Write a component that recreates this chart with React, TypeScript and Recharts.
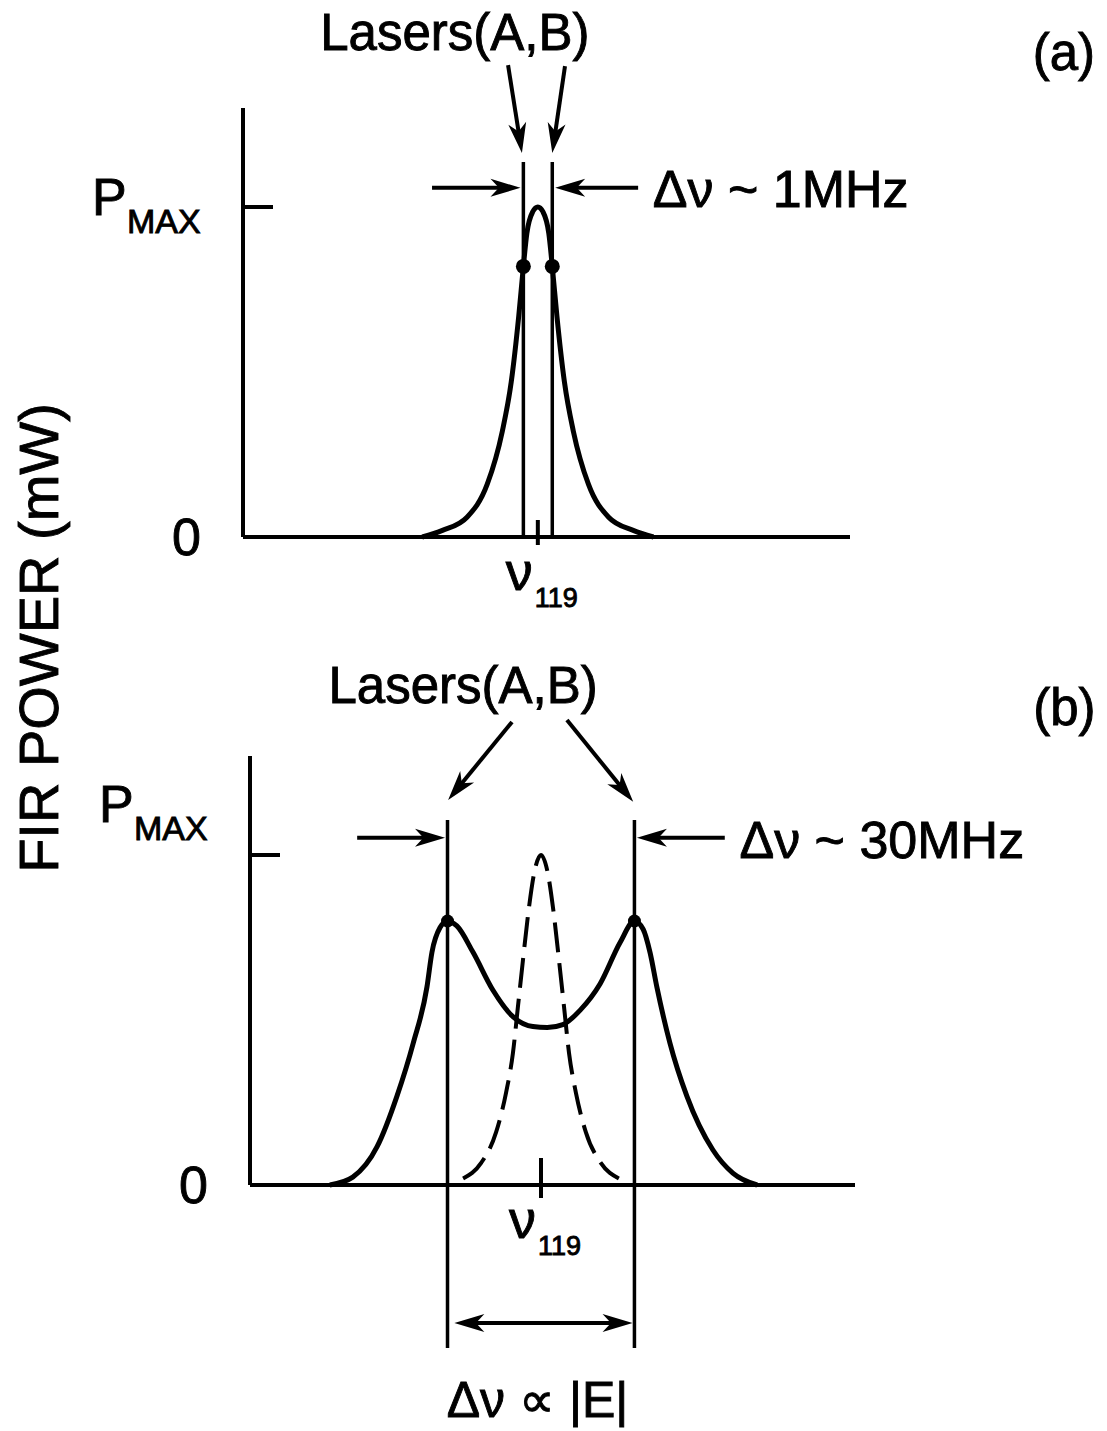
import React from 'react';
import {
  ComposedChart,
  Line,
  Scatter,
  XAxis,
  YAxis,
  ReferenceLine,
  ReferenceDot,
} from 'recharts';

const FONT = '"Liberation Sans", Arial, Helvetica, sans-serif';
const INK = '#000';
// the scanned lettering is heavier than a regular face
const TEXT_STROKE = 0.9;

// (a) lasers 1 MHz apart, both sitting inside the nu_119 gain line
// detuning from nu_119 in MHz, power in units of P_MAX
const freqA = [-4.0, -3.3, -2.45, -1.75, -1.23, -0.92, -0.66, -0.5, -0.38, -0.18, 0, 0.18, 0.38, 0.5, 0.66, 0.92, 1.23, 1.75, 2.45, 3.3, 4.0];
const powerA = [0, 0.02, 0.06, 0.16, 0.32, 0.47, 0.67, 0.82, 0.92, 0.985, 1.0, 0.985, 0.92, 0.82, 0.67, 0.47, 0.32, 0.16, 0.06, 0.02, 0];
const laserFreqA = [-0.5, 0.5];
const laserPowerA = [0.82, 0.82];

// (b) lasers 30 MHz apart: solid = Stark split line, dashed = unsplit line
const freqB = [-33.9, -30.2, -26.3, -23.1, -20.5, -18.3, -17.5, -16.2, -15, -13.5, -10.9, -7.7, -4.5, -1.3, 1.0, 3.5, 6.3, 9.5, 12.7, 15, 16.4, 17.5, 18.6, 20.7, 23.4, 27.6, 30.8, 34.7];
const powerB = [0, 0.024, 0.116, 0.27, 0.43, 0.6, 0.705, 0.78, 0.8, 0.785, 0.705, 0.59, 0.51, 0.48, 0.477, 0.486, 0.53, 0.61, 0.735, 0.8, 0.775, 0.705, 0.6, 0.43, 0.27, 0.106, 0.036, 0];
const freqUnsplit = [-12.5, -9.6, -7.2, -5.6, -4.5, -3.7, -2.9, -2.0, -1.04, 0, 1.04, 2.0, 2.9, 3.7, 4.5, 5.6, 7.2, 9.6, 12.5];
const powerUnsplit = [0.02, 0.067, 0.16, 0.28, 0.4, 0.54, 0.68, 0.83, 0.95, 1.0, 0.95, 0.83, 0.68, 0.54, 0.4, 0.28, 0.16, 0.067, 0.02];
const laserFreqB = [-15, 15];
const laserPowerB = [0.8, 0.8];

const powerTicks = [0, 1];
const freqTicks = [0];

const zip = (fs: number[], ps: number[]) => fs.map((f, i) => ({ f, p: ps[i] }));

const textStyle = {
  fontFamily: FONT,
  fill: INK,
  stroke: INK,
  strokeWidth: TEXT_STROKE,
};

// arrowhead with a notched back, tip at (tx,ty), coming from (fx,fy)
function headPoints(tx: number, ty: number, fx: number, fy: number) {
  const a = Math.atan2(ty - fy, tx - fx);
  const ux = Math.cos(a);
  const uy = Math.sin(a);
  const L = 30;
  const W = 9;
  const bx = tx - L * ux;
  const by = ty - L * uy;
  const nx = tx - 0.72 * L * ux;
  const ny = ty - 0.72 * L * uy;
  return `${tx},${ty} ${bx - W * uy},${by + W * ux} ${nx},${ny} ${bx + W * uy},${by - W * ux}`;
}

const arrowShape = (both: boolean) => (props: any) => {
  const { x1, y1, x2, y2 } = props;
  const a = Math.atan2(y2 - y1, x2 - x1);
  const cut = 20;
  const ex = x2 - cut * Math.cos(a);
  const ey = y2 - cut * Math.sin(a);
  const sx = both ? x1 + cut * Math.cos(a) : x1;
  const sy = both ? y1 + cut * Math.sin(a) : y1;
  return (
    <g>
      <line x1={sx} y1={sy} x2={ex} y2={ey} stroke={INK} strokeWidth={4} />
      <polygon points={headPoints(x2, y2, x1, y1)} fill={INK} />
      {both && <polygon points={headPoints(x1, y1, x2, y2)} fill={INK} />}
    </g>
  );
};

const noteShape = (text: string, size: number) => (props: any) => (
  <text x={props.cx} y={props.cy} textAnchor="middle" fontSize={size} {...textStyle}>
    {text}
  </text>
);

const dotShape = (r: number) => (props: any) => <circle cx={props.cx} cy={props.cy} r={r} fill={INK} />;

function PowerTick({ x, y, payload, pDy, maxDy }: any) {
  if (payload.value === 0) {
    return (
      <text x={x - 42} y={y + 18} textAnchor="end" fontSize={52} {...textStyle}>
        0
      </text>
    );
  }
  return (
    <g>
      <line x1={x} y1={y} x2={x + 30} y2={y} stroke={INK} strokeWidth={4} />
      <text x={x - 151} y={y + pDy} fontSize={52} {...textStyle}>P</text>
      <text x={x - 116} y={y + maxDy} fontSize={34} {...textStyle}>MAX</text>
    </g>
  );
}

function NuTick({ x, y, up, down }: any) {
  return (
    <g>
      <line x1={x} y1={y - up} x2={x} y2={y + down} stroke={INK} strokeWidth={4} />
      <text x={x - 32} y={y + 53} fontSize={54} {...textStyle}>ν</text>
      <text x={x - 3} y={y + 70} fontSize={27} {...textStyle}>119</text>
    </g>
  );
}

type Seg = { from: [number, number]; to: [number, number]; both?: boolean };
type Note = { text: string; f: number; p: number; size: number };

interface PanelProps {
  height: number;
  margin: { top: number; right: number; bottom: number; left: number };
  domain: [number, number];
  solid: { f: number; p: number }[];
  dashed?: { f: number; p: number }[];
  lasers: number[];
  laserPower: number[];
  laserSpan: [number, number];
  dotR: number;
  arrows: Seg[];
  notes: Note[];
  pDy: number;
  maxDy: number;
  tickUp: number;
  tickDown: number;
}

function Panel(cfg: PanelProps) {
  const dots = zip(cfg.lasers, cfg.laserPower);
  return (
    <ComposedChart width={1107} height={cfg.height} margin={cfg.margin}>
      <XAxis
        type="number"
        dataKey="f"
        domain={cfg.domain}
        ticks={freqTicks}
        interval={0}
        height={60}
        axisLine={{ stroke: INK, strokeWidth: 4 }}
        tickLine={false}
        tickSize={0}
        tickMargin={0}
        tick={(p: any) => <NuTick x={p.x} y={p.y} up={cfg.tickUp} down={cfg.tickDown} />}
      />
      <YAxis
        type="number"
        dataKey="p"
        domain={[0, 1.3]}
        ticks={powerTicks}
        interval={0}
        width={80}
        axisLine={{ stroke: INK, strokeWidth: 4 }}
        tickLine={false}
        tickSize={0}
        tickMargin={0}
        tick={(p: any) => <PowerTick x={p.x} y={p.y} payload={p.payload} pDy={cfg.pDy} maxDy={cfg.maxDy} />}
      />
      {cfg.lasers.map((f) => (
        <ReferenceLine
          key={`laser${f}`}
          segment={[{ x: f, y: cfg.laserSpan[0] }, { x: f, y: cfg.laserSpan[1] }]}
          stroke={INK}
          strokeWidth={3.5}
          ifOverflow="visible"
        />
      ))}
      {cfg.dashed && (
        <Line
          data={cfg.dashed}
          dataKey="p"
          type="monotone"
          stroke={INK}
          strokeWidth={4}
          strokeDasharray="30 11"
          dot={false}
          activeDot={false}
          isAnimationActive={false}
        />
      )}
      <Line
        data={cfg.solid}
        dataKey="p"
        type="monotone"
        stroke={INK}
        strokeWidth={5}
        dot={false}
        activeDot={false}
        isAnimationActive={false}
      />
      <Scatter data={dots} shape={dotShape(cfg.dotR)} isAnimationActive={false} />
      {cfg.arrows.map((a, i) => (
        <ReferenceLine
          key={`arrow${i}`}
          segment={[{ x: a.from[0], y: a.from[1] }, { x: a.to[0], y: a.to[1] }]}
          ifOverflow="visible"
          shape={arrowShape(!!a.both)}
        />
      ))}
      {cfg.notes.map((n) => (
        <ReferenceDot
          key={n.text}
          x={n.f}
          y={n.p}
          r={1}
          ifOverflow="visible"
          shape={noteShape(n.text, n.size)}
        />
      ))}
    </ComposedChart>
  );
}

const arrowsA: Seg[] = [
  { from: [-1.03, 1.43], to: [-0.55, 1.164] },
  { from: [0.94, 1.427], to: [0.5, 1.164] },
  { from: [-3.66, 1.058], to: [-0.6, 1.058] },
  { from: [3.47, 1.058], to: [0.6, 1.058] },
];

const notesA: Note[] = [
  { text: 'Lasers(A,B)', f: -2.87, p: 1.476, size: 51 },
  { text: '(a)', f: 18.2, p: 1.415, size: 51 },
  { text: 'Δν ~ 1MHz', f: 8.4, p: 1.0, size: 52 },
];

const arrowsB: Seg[] = [
  { from: [-4.65, 1.403], to: [-14.9, 1.167] },
  { from: [4.17, 1.409], to: [14.8, 1.161] },
  { from: [-29.5, 1.052], to: [-15.4, 1.052] },
  { from: [29.5, 1.052], to: [15.4, 1.052] },
  { from: [-13.9, -0.418], to: [14.7, -0.418], both: true },
];

const notesB: Note[] = [
  { text: 'Lasers(A,B)', f: -12.5, p: 1.461, size: 51 },
  { text: '(b)', f: 84.0, p: 1.394, size: 51 },
  { text: 'Δν ~ 30MHz', f: 54.7, p: 0.991, size: 52 },
  { text: 'Δν ∝  |E|', f: -0.56, p: -0.703, size: 50 },
];

export default function App() {
  return (
    <div style={{ position: 'absolute', left: 0, top: 0, width: 1107, height: 1431, background: '#fff' }}>
      <div style={{ position: 'absolute', left: 0, top: 0 }}>
        <Panel
          height={620}
          margin={{ top: 108, right: 257, bottom: 23, left: 163 }}
          domain={[-10.2, 10.8]}
          solid={zip(freqA, powerA)}
          lasers={laserFreqA}
          laserPower={laserPowerA}
          laserSpan={[0, 1.136]}
          dotR={7.5}
          arrows={arrowsA}
          notes={notesA}
          pDy={8}
          maxDy={26}
          tickUp={17}
          tickDown={8}
        />
      </div>
      <div style={{ position: 'absolute', left: 0, top: 640 }}>
        <Panel
          height={791}
          margin={{ top: 116, right: 252, bottom: 186, left: 170 }}
          domain={[-46.7, 50.4]}
          solid={zip(freqB, powerB)}
          dashed={zip(freqUnsplit, powerUnsplit)}
          lasers={laserFreqB}
          laserPower={laserPowerB}
          laserSpan={[-0.494, 1.106]}
          dotR={6.5}
          arrows={arrowsB}
          notes={notesB}
          pDy={-33}
          maxDy={-15}
          tickUp={27}
          tickDown={13}
        />
      </div>
      <svg
        width={1107}
        height={1431}
        style={{ position: 'absolute', left: 0, top: 0, pointerEvents: 'none' }}
      >
        <text
          x={58}
          y={638}
          transform="rotate(-90 58 638)"
          textAnchor="middle"
          fontSize={56}
          {...textStyle}
        >
          FIR POWER (mW)
        </text>
      </svg>
    </div>
  );
}
